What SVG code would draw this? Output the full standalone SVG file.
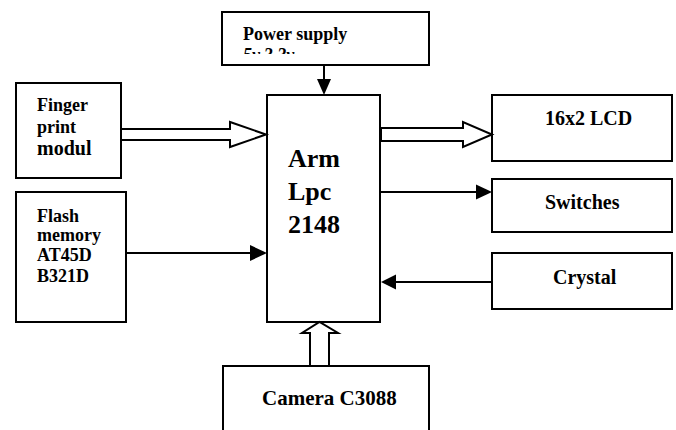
<svg xmlns="http://www.w3.org/2000/svg" width="676" height="430" viewBox="0 0 676 430">
<style>
.box{fill:#fff;stroke:#000;stroke-width:2}
.t{font-family:"Liberation Serif","Times New Roman",serif;font-weight:bold;fill:#000}
.s18{font-size:18px}
.s20{font-size:20px}
.s21{font-size:21px}
.s26{font-size:26px}
.ln{stroke:#000;stroke-width:2;fill:none}
.hd{fill:#000;stroke:none}
.hollow{fill:#fff;stroke:#000;stroke-width:2;stroke-linejoin:miter}
</style>
<defs>
<clipPath id="psclip"><rect x="222" y="12" width="207" height="42"/></clipPath>
</defs>
<rect x="0" y="0" width="676" height="430" fill="#fff"/>
<g id="power">
<rect class="box" x="222" y="12" width="207" height="53"/>
<g clip-path="url(#psclip)">
<text class="t s18" x="243" y="40">Power supply</text>
<text class="t s18" x="243" y="61" font-style="italic">5v,3.3v</text>
</g>
</g>
<g id="arm">
<rect class="box" x="267" y="95" width="113" height="227"/>
<text class="t s26" x="288" y="167">Arm</text>
<text class="t s26" x="288" y="200">Lpc</text>
<text class="t s26" x="288" y="233">2148</text>
</g>
<g id="finger">
<rect class="box" x="16" y="83" width="105" height="95"/>
<text class="t s18" x="37" y="111">Finger</text>
<text class="t s18" x="37" y="133">print</text>
<text class="t s20" x="37" y="155">modul</text>
</g>
<g id="flash">
<rect class="box" x="16" y="192" width="110" height="130"/>
<text class="t s18" x="37" y="222">Flash</text>
<text class="t s18" x="37" y="241">memory</text>
<text class="t s18" x="37" y="261">AT45D</text>
<text class="t s18" x="37" y="282">B321D</text>
</g>
<g id="lcd">
<rect class="box" x="492" y="95" width="180" height="66"/>
<text class="t s20" x="545" y="125">16x2 LCD</text>
</g>
<g id="switches">
<rect class="box" x="492" y="179" width="180" height="53"/>
<text class="t s20" x="545" y="209">Switches</text>
</g>
<g id="crystal">
<rect class="box" x="492" y="253" width="180" height="56"/>
<text class="t s20" x="553" y="284">Crystal</text>
</g>
<g id="camera">
<rect class="box" x="223" y="366" width="206" height="80"/>
<text class="t s21" x="262" y="405">Camera C3088</text>
</g>
<g id="connectors">
<line class="ln" x1="324" y1="65" x2="324" y2="81"/>
<polygon class="hd" points="317,79 331,79 324,95"/>
<polygon class="hollow" points="121,129 230,129 230,122 266,134.5 230,147 230,140 121,140"/>
<line class="ln" x1="126" y1="253" x2="252" y2="253"/>
<polygon class="hd" points="250,245 250,261 267,253"/>
<polygon class="hollow" points="381,128 463,128 463,122 492,134.5 463,147 463,141 381,141"/>
<line class="ln" x1="381" y1="192" x2="478" y2="192"/>
<polygon class="hd" points="476,184.5 476,199.5 492,192"/>
<line class="ln" x1="492" y1="282" x2="394" y2="282"/>
<polygon class="hd" points="396,274.5 396,289.5 381,282"/>
<polygon class="hollow" points="310,366 310,333 302,333 319.5,322 338,333 329,333 329,366"/>
</g>
</svg>
